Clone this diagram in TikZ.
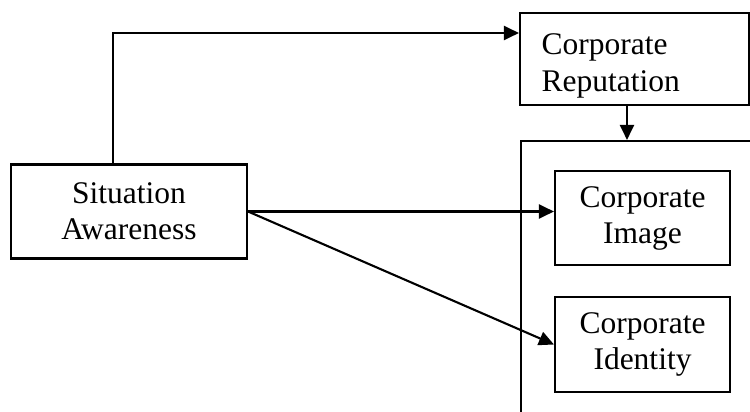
\documentclass[tikz,border=0pt]{standalone}
\usepackage{fontspec}
\setmainfont{Liberation Serif}
\usetikzlibrary{arrows.meta}
\begin{document}
\begin{tikzpicture}[x=1pt,y=-1pt,
  box/.style={draw,line width=2.1pt,rectangle,inner sep=0pt,font=\fontsize{31.5}{36}\selectfont,align=center},
  lbl/.style={inner sep=0pt,font=\fontsize{31.5}{36.5}\selectfont,align=left},
  arr/.style={line width=2.1pt,-{Triangle[length=15pt,width=14pt]}}]
\clip (0,0) rectangle (750,412);
\node[box,minimum width=229pt,minimum height=92pt] (rep) at (634.5,59) {};
\node[lbl,anchor=north west] (reptext) at (541.5,33.7) {Corporate\\Reputation};
\node[box,minimum width=250pt,minimum height=300pt] (big) at (646,291) {};
\node[box,minimum width=236pt,minimum height=94pt] (sa) at (129,211.5) {Situation\\Awareness};
\node[box,minimum width=175pt,minimum height=94pt] (img) at (642.5,218) {Corporate\\Image};
\node[box,minimum width=175pt,minimum height=95pt] (ident) at (642.5,344.5) {Corporate\\Identity};
\coordinate (up) at (113,33);
\coordinate (dn) at (627,0);
\draw[arr] (sa.north -| up) |- (rep.west |- up);
\draw[arr] (rep.south -| dn) -- (big.north -| dn);
\draw[arr] (sa.east) -- (img.west |- sa.east);
\draw[arr] (sa.east) -- (ident.west);
\end{tikzpicture}
\end{document}
